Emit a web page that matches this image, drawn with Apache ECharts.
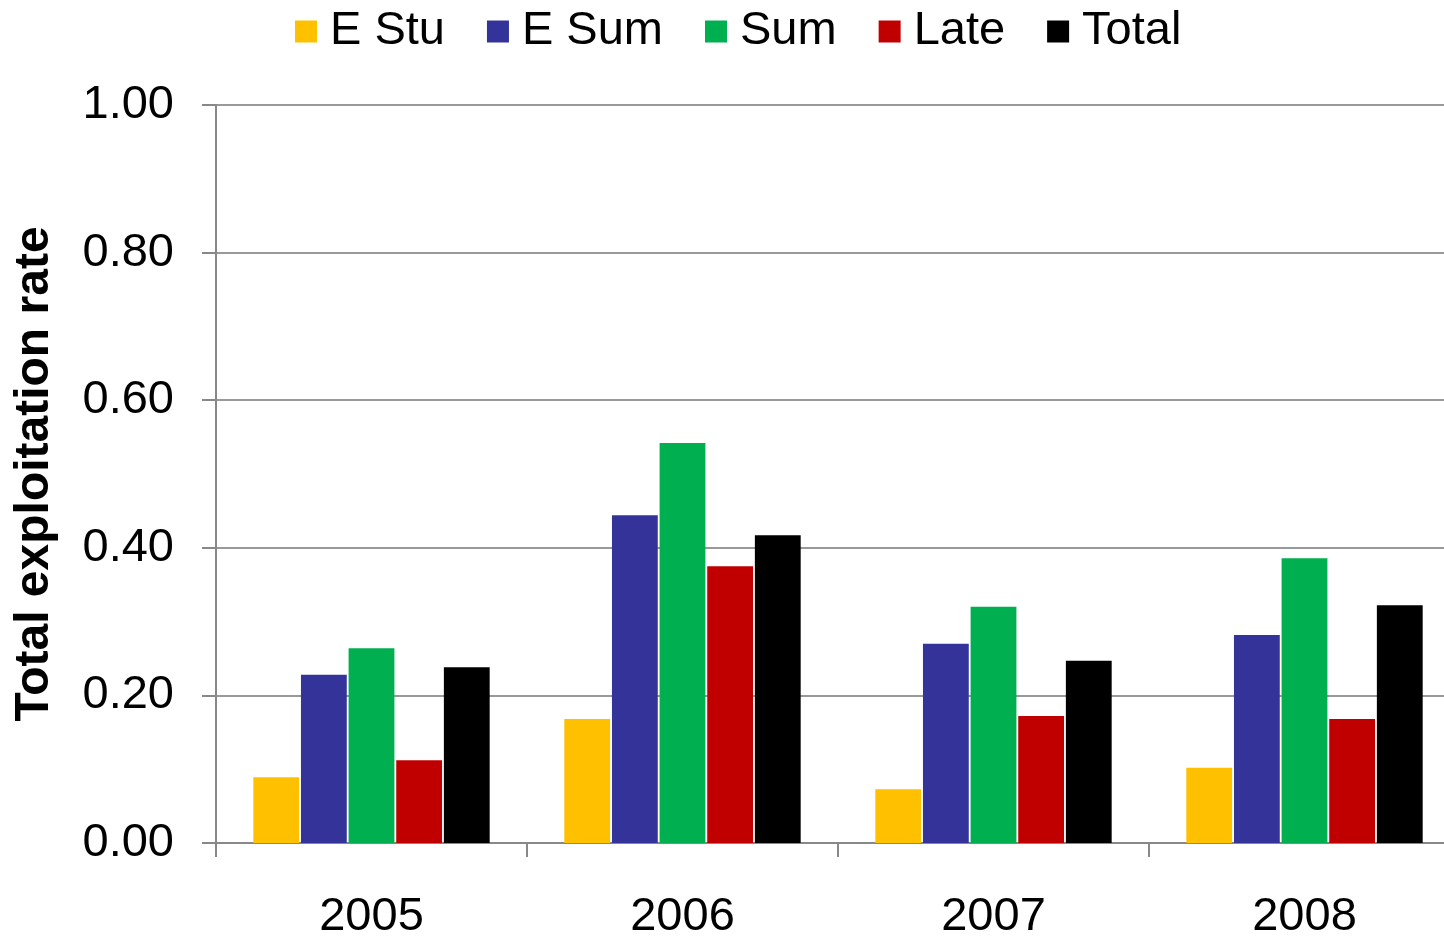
<!DOCTYPE html>
<html>
<head>
<meta charset="utf-8">
<script src="https://cdn.jsdelivr.net/npm/echarts@6/dist/echarts.min.js"></script>
<style>
  html, body { margin: 0; padding: 0; background: #fff; }
  #chart { width: 1444px; height: 936px; }
</style>
</head>
<body>
<div id="chart"></div>
<script>
const years = ['2005', '2006', '2007', '2008'];
const eStu = [0.089, 0.168, 0.073, 0.102];
const eSum = [0.228, 0.444, 0.270, 0.282];
const sum = [0.264, 0.542, 0.320, 0.386];
const late = [0.112, 0.375, 0.172, 0.168];
const total = [0.238, 0.417, 0.247, 0.322];

const seriesNames = ['E Stu', 'E Sum', 'Sum', 'Late', 'Total'];
const seriesData = [eStu, eSum, sum, late, total];
const colors = ['#FFC000', '#333399', '#00B050', '#C00000', '#000000'];

const font = 'Liberation Sans, Arial, sans-serif';
const chart = echarts.init(document.getElementById('chart'), null, { renderer: 'canvas' });

chart.setOption({
    animation: false,
    color: colors,
    legend: {
        top: 3,
        left: 290,
        itemWidth: 22,
        itemHeight: 22,
        itemGap: 42,
        icon: 'rect',
        textStyle: { fontFamily: font, fontSize: 47, color: '#000', padding: [0, 0, 0, 8] },
        data: seriesNames
    },
    grid: {
        left: 216,
        width: 1244,
        top: 105,
        height: 738,
        outerBoundsMode: 'none',
        containLabel: false
    },
    xAxis: {
        type: 'category',
        data: years,
        axisLine: { lineStyle: { color: '#888', width: 2 } },
        axisTick: { show: true, length: 14, lineStyle: { color: '#888', width: 2 } },
        axisLabel: { fontFamily: font, fontSize: 47, color: '#000', margin: 51 }
    },
    yAxis: {
        type: 'value',
        min: 0,
        max: 1,
        interval: 0.2,
        name: 'Total exploitation rate',
        nameLocation: 'middle',
        nameGap: 157,
        nameTextStyle: { fontFamily: font, fontSize: 48, fontWeight: 'bold', color: '#000' },
        axisLine: { show: true, lineStyle: { color: '#888', width: 2 } },
        axisTick: { show: true, length: 14, lineStyle: { color: '#888', width: 2 } },
        splitLine: { lineStyle: { color: '#999', width: 2 } },
        axisLabel: {
            fontFamily: font,
            fontSize: 47,
            color: '#000',
            margin: 42,
            formatter: v => v.toFixed(2)
        }
    },
    series: seriesNames.map((name, i) => ({
        name,
        type: 'bar',
        data: seriesData[i],
        barGap: '4%',
        barCategoryGap: '24%'
    }))
});
</script>
</body>
</html>
